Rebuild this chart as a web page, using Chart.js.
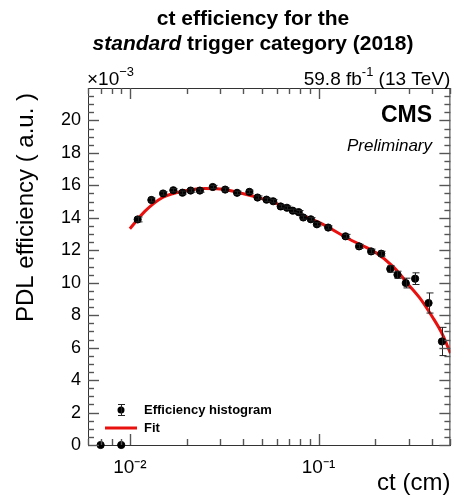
<!DOCTYPE html>
<html>
<head>
<meta charset="utf-8">
<script src="https://cdn.jsdelivr.net/npm/chart.js@4.4.1/dist/chart.umd.min.js"></script>
<style>
  html, body { margin: 0; padding: 0; background: #fff; }
  #wrap { position: relative; width: 455px; height: 496px; }
</style>
</head>
<body>
<div id="wrap"><canvas id="effChart" width="455" height="496"></canvas></div>
<script>
// ct bins (cm) and efficiency histogram values (x 10^-3)
const ctBins = [0.007, 0.009, 0.011, 0.013, 0.015, 0.017, 0.019, 0.021, 0.0235, 0.0275,
                0.032, 0.037, 0.043, 0.0475, 0.053, 0.0575, 0.063, 0.068, 0.073, 0.0785,
                0.083, 0.091, 0.098, 0.1125, 0.139, 0.164, 0.19, 0.215, 0.24, 0.262,
                0.29, 0.325, 0.383, 0.451];
const effValues = [0, 0, 13.9, 15.1, 15.5, 15.7, 15.55, 15.68, 15.68, 15.9,
                   15.74, 15.54, 15.6, 15.25, 15.12, 15.02, 14.7, 14.62, 14.44, 14.35,
                   14.02, 13.91, 13.6, 13.4, 12.86, 12.24, 11.93, 11.79, 10.85, 10.49,
                   9.98, 10.25, 8.75, 6.38];
const effErrors = [0, 0, 0.15, 0.12, 0.1, 0.1, 0.1, 0.1, 0.1, 0.1,
                   0.1, 0.1, 0.1, 0.1, 0.1, 0.1, 0.1, 0.1, 0.1, 0.1,
                   0.1, 0.1, 0.1, 0.1, 0.12, 0.13, 0.14, 0.15, 0.2, 0.22,
                   0.3, 0.36, 0.62, 0.87];

// fit curve
const fitCt = [0.010, 0.012, 0.015, 0.02, 0.025, 0.03, 0.04, 0.05, 0.06, 0.08,
               0.1, 0.15, 0.2, 0.25, 0.3, 0.35, 0.4, 0.45, 0.5];
const fitEff = [13.33, 14.4, 15.27, 15.68, 15.8, 15.78, 15.48, 15.18, 14.87, 14.2,
                13.73, 12.6, 11.88, 10.96, 9.88, 8.95, 7.92, 6.9, 5.66];

// axis ticks
const xMajorTicks = [0.01, 0.1];
const xTickLabels = ['10\u207B\u00B2', '10\u207B\u00B9'];
const xMinorTicks = [0.006, 0.007, 0.008, 0.009, 0.02, 0.03, 0.04, 0.05, 0.06, 0.07, 0.08, 0.09, 0.2, 0.3, 0.4, 0.5];
const yMajorTicks = [0, 2, 4, 6, 8, 10, 12, 14, 16, 18, 20];
const yMinorTicks = [];
for (let i = 1; i < 44; i++) { if (i % 4) yMinorTicks.push(i / 2); }

const FONT = '"Liberation Sans", Arial, Helvetica, sans-serif';
const FIT_RED = '#e8110f';
const FRAME = '#333';
const TICK_COLOR = '#555';

function seg(c, x1, y1, x2, y2) {
    c.beginPath();
    c.moveTo(x1, y1);
    c.lineTo(x2, y2);
    c.stroke();
}

// ROOT-like frame: inward tick marks on all four sides, placed via the scales
const frameTicks = {
    id: 'frameTicks',
    afterDraw(chart) {
        const c = chart.ctx;
        const a = chart.chartArea;
        const xs = chart.scales.x, ys = chart.scales.y;
        c.save();
        c.strokeStyle = FRAME;
        c.lineWidth = 1;
        seg(c, a.left, a.top + 0.5, a.right, a.top + 0.5);
        seg(c, a.right - 0.5, a.top, a.right - 0.5, a.bottom);
        c.strokeStyle = TICK_COLOR;
        c.lineWidth = 1.4;
        const xTick = (v, len) => {
            const px = Math.round(xs.getPixelForValue(v)) + 0.5;
            seg(c, px, a.bottom, px, a.bottom - len);
            seg(c, px, a.top, px, a.top + len);
        };
        const yTick = (v, len) => {
            const py = Math.round(ys.getPixelForValue(v)) + 0.5;
            seg(c, a.left, py, a.left + len, py);
            seg(c, a.right, py, a.right - len, py);
        };
        xMajorTicks.forEach(v => xTick(v, 11));
        xMinorTicks.forEach(v => xTick(v, 6));
        yMajorTicks.forEach(v => yTick(v, 11));
        yMinorTicks.forEach(v => yTick(v, 6));
        c.restore();
    }
};

// vertical error bars on the histogram points
const errorBars = {
    id: 'errorBars',
    afterDatasetsDraw(chart) {
        const c = chart.ctx;
        const xs = chart.scales.x, ys = chart.scales.y;
        c.save();
        c.strokeStyle = '#222';
        c.lineWidth = 1;
        ctBins.forEach((ct, i) => {
            const e = effErrors[i];
            if (!e) return;
            const px = Math.round(xs.getPixelForValue(ct)) + 0.5;
            const y1 = ys.getPixelForValue(effValues[i] + e);
            const y2 = ys.getPixelForValue(effValues[i] - e);
            seg(c, px, y1, px, y2);
            seg(c, px - 3, y1, px + 4, y1);
            seg(c, px - 3, y2, px + 4, y2);
        });
        c.restore();
    }
};

// superscript helper: base text then a smaller raised part
function supText(c, parts, x, y, size) {
    let cx = x;
    parts.forEach(p => {
        const sz = p.sup ? size * 0.68 : size;
        c.font = sz + 'px ' + FONT;
        c.fillText(p.t, cx, p.sup ? y - size * 0.45 : y);
        cx += c.measureText(p.t).width;
    });
    return cx - x;
}
function supWidth(c, parts, size) {
    let w = 0;
    parts.forEach(p => {
        c.font = (p.sup ? size * 0.68 : size) + 'px ' + FONT;
        w += c.measureText(p.t).width;
    });
    return w;
}

// titles, labels, CMS tag and legend
const annotations = {
    id: 'annotations',
    afterDraw(chart) {
        const c = chart.ctx;
        const a = chart.chartArea;
        c.save();
        c.fillStyle = '#000';
        c.textBaseline = 'alphabetic';

        // title, two lines
        c.textAlign = 'center';
        c.font = 'bold 21px ' + FONT;
        c.fillText('ct efficiency for the', 253, 25);
        c.textAlign = 'left';
        const it = 'standard', rest = ' trigger category (2018)';
        c.font = 'italic bold 21px ' + FONT;
        const wIt = c.measureText(it).width;
        c.font = 'bold 21px ' + FONT;
        const wRest = c.measureText(rest).width;
        const x0 = 253 - (wIt + wRest) / 2;
        c.font = 'italic bold 21px ' + FONT;
        c.fillText(it, x0, 50);
        c.font = 'bold 21px ' + FONT;
        c.fillText(rest, x0 + wIt, 50);

        // exponent label
        supText(c, [{ t: '\u00D710' }, { t: '\u22123', sup: true }], a.left - 1, 85, 19);

        // luminosity
        const lumi = [{ t: '59.8 fb' }, { t: '-1', sup: true }, { t: ' (13 TeV)' }];
        supText(c, lumi, a.right - supWidth(c, lumi, 19), 85, 19);

        // CMS Preliminary
        c.textAlign = 'right';
        c.font = 'bold 23px ' + FONT;
        c.fillText('CMS', 432, 122);
        c.font = 'italic 17px ' + FONT;
        c.fillText('Preliminary', 432, 151);

        // axis titles
        c.font = '24px ' + FONT;
        c.fillText('ct (cm)', a.right, 490);
        c.translate(33, 93);
        c.rotate(-Math.PI / 2);
        c.fillText('PDL efficiency ( a.u. )', 0, 0);
        c.setTransform(1, 0, 0, 1, 0, 0);

        // legend
        c.textAlign = 'left';
        c.textBaseline = 'middle';
        c.font = 'bold 13px ' + FONT;
        c.fillText('Efficiency histogram', 144, 410);
        c.fillText('Fit', 144, 428);
        c.beginPath();
        c.arc(121, 410, 3.5, 0, Math.PI * 2);
        c.fill();
        c.strokeStyle = '#222';
        c.lineWidth = 1;
        seg(c, 121.5, 404, 121.5, 416);
        seg(c, 118, 404.5, 125, 404.5);
        seg(c, 118, 415.5, 125, 415.5);
        c.strokeStyle = FIT_RED;
        c.lineWidth = 3;
        seg(c, 105, 428, 137, 428);
        c.restore();
    }
};

const ctx = document.getElementById('effChart').getContext('2d');
new Chart(ctx, {
    type: 'scatter',
    data: {
        datasets: [
            {
                label: 'Efficiency histogram',
                data: ctBins.map((ct, i) => ({ x: ct, y: effValues[i] })),
                backgroundColor: '#000',
                borderColor: '#000',
                pointRadius: 3.6,
                pointHoverRadius: 3.6,
                clip: false,
                order: 0
            },
            {
                label: 'Fit',
                data: fitCt.map((ct, i) => ({ x: ct, y: fitEff[i] })),
                showLine: true,
                borderColor: FIT_RED,
                borderWidth: 3,
                pointRadius: 0,
                cubicInterpolationMode: 'monotone',
                order: 1
            }
        ]
    },
    options: {
        responsive: false,
        animation: false,
        layout: { padding: { top: 88, right: 4, left: 0, bottom: 0 } },
        plugins: {
            legend: { display: false },
            tooltip: { enabled: false },
            title: { display: false }
        },
        scales: {
            x: {
                type: 'logarithmic',
                min: 0.006,
                max: 0.5,
                afterBuildTicks: s => { s.ticks = xMajorTicks.map(v => ({ value: v })); },
                afterFit: s => { s.height = 51; },
                grid: { display: false, drawTicks: false },
                border: { display: true, color: FRAME, width: 1 },
                ticks: {
                    callback: v => xTickLabels[xMajorTicks.indexOf(v)] || '',
                    font: { family: FONT, size: 19 },
                    color: '#000',
                    padding: 11,
                    maxRotation: 0,
                    autoSkip: false
                }
            },
            y: {
                min: 0,
                max: 22,
                afterBuildTicks: s => { s.ticks = yMajorTicks.map(v => ({ value: v })); },
                afterFit: s => { s.width = 88; },
                grid: { display: false, drawTicks: false },
                border: { display: true, color: FRAME, width: 1 },
                ticks: {
                    font: { family: FONT, size: 18 },
                    color: '#000',
                    padding: 7
                }
            }
        }
    },
    plugins: [errorBars, frameTicks, annotations]
});
</script>
</body>
</html>
